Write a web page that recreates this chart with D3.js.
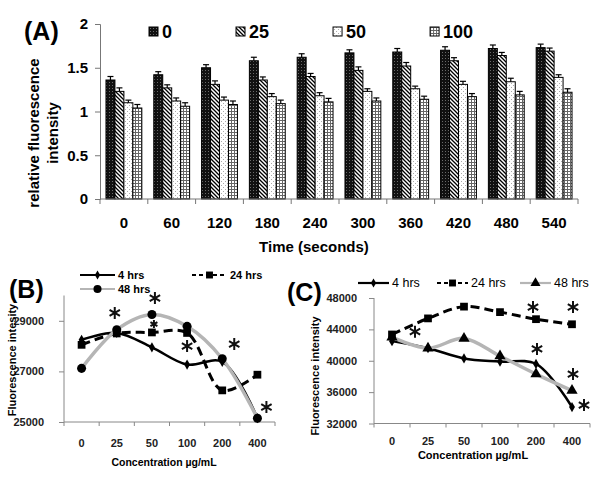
<!DOCTYPE html>
<html>
<head>
<meta charset="utf-8">
<script src="https://cdn.jsdelivr.net/npm/d3@7"></script>
<style>
  body { margin: 0; background: #fff; }
  text { font-family: "Liberation Sans", Arial, sans-serif; }
</style>
</head>
<body>
<div id="chart"></div>
<script>
// ---- panel A data ----
const times = ["0", "60", "120", "180", "240", "300", "360", "420", "480", "540"];
const doses = ["0", "25", "50", "100"];
const dose0   = [1.36, 1.42, 1.50, 1.58, 1.62, 1.67, 1.68, 1.70, 1.72, 1.73];
const dose25  = [1.23, 1.27, 1.31, 1.36, 1.40, 1.47, 1.52, 1.58, 1.64, 1.69];
const dose50  = [1.10, 1.12, 1.13, 1.17, 1.18, 1.23, 1.26, 1.31, 1.34, 1.39];
const dose100 = [1.04, 1.06, 1.08, 1.09, 1.11, 1.12, 1.14, 1.17, 1.19, 1.22];
const err0   = [0.04, 0.035, 0.035, 0.04, 0.04, 0.035, 0.04, 0.04, 0.04, 0.04];
const err25  = [0.04, 0.035, 0.04, 0.035, 0.035, 0.04, 0.04, 0.035, 0.035, 0.035];
const err50  = [0.03, 0.035, 0.035, 0.035, 0.035, 0.03, 0.03, 0.035, 0.04, 0.03];
const err100 = [0.04, 0.04, 0.04, 0.04, 0.04, 0.035, 0.035, 0.035, 0.04, 0.04];
const ticksA = [0, 0.5, 1, 1.5, 2];

// ---- panels B and C data ----
const conc = ["0", "25", "50", "100", "200", "400"];
const hours = ["4 hrs", "24 hrs", "48 hrs"];
const b4  = [28250, 28520, 27950, 27270, 27380, 25150];
const b24 = [28050, 28500, 28540, 28520, 26250, 26870];
const b48 = [27120, 28650, 29250, 28780, 27500, 25150];
const ticksB = [25000, 27000, 29000];
const starsB = [{c: "25", v: 29310, dx: -2, r: 6}, {c: "50", v: 29900, dx: 3, r: 6},
                {c: "50", v: 28870, dx: 2, r: 4}, {c: "100", v: 28000, dx: 0, r: 6},
                {c: "200", v: 28080, dx: 12, r: 6}, {c: "400", v: 25590, dx: 9, r: 6}];
const c4  = [42500, 41600, 40300, 39900, 39600, 34100];
const c24 = [43350, 45400, 46900, 46200, 45300, 44650];
const c48 = [43000, 41600, 42850, 40600, 38300, 36200];
const ticksC = [32000, 36000, 40000, 44000, 48000];
const starsC = [{c: "25", v: 43700, dx: -13, r: 6}, {c: "200", v: 46850, dx: -3, r: 6},
                {c: "400", v: 46850, dx: 1, r: 6}, {c: "200", v: 41500, dx: 1, r: 6},
                {c: "400", v: 38300, dx: 1, r: 6}, {c: "400", v: 34350, dx: 12, r: 6}];

const W = 600, H = 480;
const svg = d3.select("#chart").append("svg")
    .attr("width", W)
    .attr("height", H);

// bar fill patterns
const defs = svg.append("defs");
function pattern(id, size) {
    return defs.append("pattern").attr("id", id)
        .attr("patternUnits", "userSpaceOnUse")
        .attr("width", size).attr("height", size);
}
const p0 = pattern("pat0", 3);
p0.append("rect").attr("width", 3).attr("height", 3).attr("fill", "#111");
p0.append("rect").attr("x", 1).attr("y", 1).attr("width", 1).attr("height", 1).attr("fill", "#6a6a6a");
const p1 = pattern("pat1", 4);
p1.append("rect").attr("width", 4).attr("height", 4).attr("fill", "#fff");
p1.append("path").attr("d", "M-1,-1L5,5M-1,3L1,5M3,-1L5,1")
    .attr("stroke", "#000").attr("stroke-width", 1.3);
const p2 = pattern("pat2", 4);
p2.append("rect").attr("width", 4).attr("height", 4).attr("fill", "#fff");
p2.append("rect").attr("x", 1).attr("y", 1).attr("width", 1).attr("height", 1).attr("fill", "#aaa");
p2.append("rect").attr("x", 3).attr("y", 3).attr("width", 1).attr("height", 1).attr("fill", "#aaa");
const p3 = pattern("pat3", 3);
p3.append("rect").attr("width", 3).attr("height", 3).attr("fill", "#fff");
p3.append("rect").attr("width", 3).attr("height", 1).attr("fill", "#666");
p3.append("rect").attr("width", 1).attr("height", 3).attr("fill", "#666");
const fills = ["url(#pat0)", "url(#pat1)", "url(#pat2)", "url(#pat3)"];

// ================= panel A =================
const A = {left: 100, right: 578, top: 24, bottom: 199};
const xA = d3.scaleBand().domain(times).range([A.left, A.right])
    .paddingInner(0.25).paddingOuter(0.125);
const xIn = d3.scaleBand().domain(doses).range([0, xA.bandwidth()]);
const yA = d3.scaleLinear().domain([0, 2]).range([A.bottom, A.top]);

const seriesA = [dose0, dose25, dose50, dose100];
const errA = [err0, err25, err50, err100];

doses.forEach((dz, i) => {
    svg.append("g").selectAll("rect")
        .data(seriesA[i])
        .join("rect")
        .attr("x", (d, j) => xA(times[j]) + xIn(dz))
        .attr("y", d => yA(d))
        .attr("width", xIn.bandwidth())
        .attr("height", d => yA(0) - yA(d))
        .attr("fill", fills[i])
        .attr("stroke", "#000")
        .attr("stroke-width", 1);
});

// error bars
doses.forEach((dz, i) => {
    const g = svg.append("g").attr("stroke", "#000").attr("stroke-width", 1.2);
    seriesA[i].forEach((v, j) => {
        const cx = xA(times[j]) + xIn(dz) + xIn.bandwidth() / 2;
        const e = errA[i][j];
        g.append("line").attr("x1", cx).attr("x2", cx).attr("y1", yA(v)).attr("y2", yA(v + e));
        g.append("line").attr("x1", cx - 3).attr("x2", cx + 3).attr("y1", yA(v + e)).attr("y2", yA(v + e));
    });
});

// y axis
const gyA = svg.append("g")
    .attr("transform", `translate(${A.left},0)`)
    .call(d3.axisLeft(yA).tickValues(ticksA).tickSize(5).tickPadding(7).tickFormat(d => d));
gyA.select(".domain").attr("stroke", "#777");
gyA.selectAll(".tick line").attr("stroke", "#777");
gyA.selectAll("text").style("font-size", "15px").style("font-weight", "bold").attr("fill", "#000");

// x axis
const gxA = svg.append("g")
    .attr("transform", `translate(0,${A.bottom})`)
    .call(d3.axisBottom(xA).tickSize(0).tickPadding(18));
gxA.select(".domain").remove();
gxA.selectAll("text").style("font-size", "15px").style("font-weight", "bold").attr("fill", "#000");
gxA.append("line").attr("x1", A.left).attr("x2", A.right).attr("stroke", "#777");
const gapA = (xA.step() - xA.bandwidth()) / 2;
gxA.selectAll(".bound")
    .data(times.map(t => xA(t) - gapA).concat([A.right]))
    .join("line")
    .attr("x1", d => d).attr("x2", d => d)
    .attr("y1", 0).attr("y2", 5)
    .attr("stroke", "#777");

svg.append("text")
    .attr("x", 314).attr("y", 252)
    .attr("text-anchor", "middle")
    .style("font-size", "15px").style("font-weight", "bold")
    .text("Time (seconds)");

svg.append("text")
    .attr("transform", "translate(39,133) rotate(-90)")
    .attr("text-anchor", "middle")
    .style("font-size", "15px").style("font-weight", "bold")
    .text("relative fluorescence");
svg.append("text")
    .attr("transform", "translate(58,133) rotate(-90)")
    .attr("text-anchor", "middle")
    .style("font-size", "15px").style("font-weight", "bold")
    .text("intensity");

svg.append("text")
    .attr("x", 24).attr("y", 40)
    .style("font-size", "25px").style("font-weight", "bold")
    .text("(A)");

// legend A
let lx = 149;
doses.forEach((dz, i) => {
    const g = svg.append("g").attr("transform", `translate(${lx},0)`);
    g.append("rect")
        .attr("x", 0).attr("y", 27).attr("width", 9).attr("height", 9)
        .attr("fill", fills[i]).attr("stroke", "#000");
    const t = g.append("text")
        .attr("x", 13).attr("y", 38)
        .style("font-size", "18px").style("font-weight", "bold")
        .text(dz);
    lx += 13 + t.node().getComputedTextLength() + 64;
});

// ================= panels B and C =================
function symbolFor(kind, size) {
    return d3.symbol().type(kind).size(size)();
}
function starPath(r) {
    const t = r / 2, u = t * Math.sqrt(3);
    return `M0,${r}L0,${-r}M${-u},${-t}L${u},${t}M${-u},${t}L${u},${-t}`;
}

function linePanel(o) {
    const x = d3.scaleBand().domain(conc).range([o.left, o.right]);
    const y = d3.scaleLinear().domain(o.domain).range([o.bottom, o.top]);
    const cx = c => x(c) + x.bandwidth() / 2;

    // y axis
    const gy = svg.append("g")
        .attr("transform", `translate(${o.left},0)`)
        .call(d3.axisLeft(y).tickValues(o.ticks).tickSize(5).tickPadding(o.yPad).tickFormat(d3.format("d")));
    gy.select(".domain").attr("stroke", "#888")
        .attr("d", `M-0,${o.bottom}V${o.top}`);
    gy.selectAll(".tick line").attr("stroke", "#888");
    gy.selectAll("text").style("font-size", "11px").style("font-weight", "bold").attr("fill", "#222");

    // x axis
    const gx = svg.append("g")
        .attr("transform", `translate(0,${o.bottom})`)
        .call(d3.axisBottom(x).tickSize(0).tickPadding(o.xPad));
    gx.select(".domain").remove();
    gx.selectAll("text").style("font-size", "11px").style("font-weight", "bold").attr("fill", "#222");
    gx.append("line").attr("x1", o.left).attr("x2", o.right).attr("stroke", "#888");
    gx.selectAll(".bound")
        .data(conc.map(c => x(c)).concat([o.right]))
        .join("line")
        .attr("x1", d => d).attr("x2", d => d)
        .attr("y1", 0).attr("y2", 4)
        .attr("stroke", "#888");

    // lines
    o.series.forEach(s => {
        const line = d3.line()
            .x((d, i) => cx(conc[i]))
            .y(d => y(d))
            .curve(d3.curveCatmullRom.alpha(0.5));
        svg.append("path")
            .datum(s.values)
            .attr("d", line)
            .attr("fill", "none")
            .attr("stroke", s.color)
            .attr("stroke-width", s.width)
            .attr("stroke-dasharray", s.dash || null)
            .attr("stroke-linejoin", "round");
    });
    // markers
    o.series.forEach(s => {
        svg.append("g").selectAll("path")
            .data(s.values)
            .join("path")
            .attr("transform", (d, i) => `translate(${cx(conc[i])},${y(d)})`)
            .attr("d", symbolFor(s.symbol, s.size))
            .attr("fill", "#000");
    });

    // significance stars
    svg.append("g").selectAll("path")
        .data(o.stars)
        .join("path")
        .attr("transform", d => `translate(${cx(d.c) + d.dx},${y(d.v)})`)
        .attr("d", d => starPath(d.r))
        .attr("stroke", "#111")
        .attr("stroke-width", 2)
        .attr("fill", "none");

    // legend
    o.series.forEach((s, i) => {
        const lg = o.legend[i];
        const g = svg.append("g").attr("transform", `translate(${lg.x},${lg.y})`);
        g.append("line")
            .attr("x1", 0).attr("x2", o.legendLen)
            .attr("stroke", s.color)
            .attr("stroke-width", Math.min(s.width, 2.2))
            .attr("stroke-dasharray", s.dash ? "4,3" : null);
        g.append("path")
            .attr("transform", `translate(${o.legendLen / 2},0)`)
            .attr("d", symbolFor(s.symbol, s.size * 0.8))
            .attr("fill", "#000");
        g.append("text")
            .attr("x", o.legendLen + 3).attr("y", 4)
            .style("font-size", o.legendFont).style("font-weight", o.legendWeight)
            .text(hours[i]);
    });

    // titles
    svg.append("text")
        .attr("x", o.xLabel[0]).attr("y", o.xLabel[1])
        .attr("text-anchor", "middle")
        .style("font-size", o.xLabelFont).style("font-weight", "bold")
        .text("Concentration µg/mL");
    svg.append("text")
        .attr("transform", `translate(${o.yLabel[0]},${o.yLabel[1]}) rotate(-90)`)
        .attr("text-anchor", "middle")
        .style("font-size", "11px").style("font-weight", "bold")
        .text(o.yTitle);
    svg.append("text")
        .attr("x", o.tag[0]).attr("y", o.tag[1])
        .style("font-size", "25px").style("font-weight", "bold")
        .text(o.tagText);
}

const gray = "#b5b5b5";

linePanel({
    left: 64, right: 275, top: 295.5, bottom: 422,
    domain: [25000, 30000], ticks: ticksB, yPad: 15, xPad: 17,
    series: [
        {values: b4, color: "#000", width: 2.5, symbol: d3.symbolDiamond, size: 30},
        {values: b24, color: "#000", width: 3, dash: "9,5", symbol: d3.symbolSquare, size: 60},
        {values: b48, color: gray, width: 3.5, symbol: d3.symbolCircle, size: 64}
    ],
    stars: starsB,
    legend: [{x: 80, y: 275}, {x: 192, y: 275}, {x: 80, y: 289}],
    legendLen: 35, legendFont: "11px", legendWeight: "bold",
    xLabel: [164, 466], xLabelFont: "10.5px",
    yLabel: [16, 360], yTitle: "Fluorescence intesity",
    tag: [9, 298], tagText: "(B)"
});

linePanel({
    left: 374, right: 590, top: 298, bottom: 423.5,
    domain: [32000, 48000], ticks: ticksC, yPad: 12, xPad: 14,
    series: [
        {values: c4, color: "#000", width: 2.5, symbol: d3.symbolDiamond, size: 30},
        {values: c24, color: "#000", width: 3, dash: "9,5", symbol: d3.symbolSquare, size: 60},
        {values: c48, color: gray, width: 3.5, symbol: d3.symbolTriangle, size: 55}
    ],
    stars: starsC,
    legend: [{x: 358, y: 283}, {x: 437, y: 283}, {x: 520, y: 283}],
    legendLen: 31, legendFont: "12.5px", legendWeight: "normal",
    xLabel: [473, 459], xLabelFont: "11px",
    yLabel: [319, 376], yTitle: "Fluorescence intensity",
    tag: [287, 301], tagText: "(C)"
});
</script>
</body>
</html>
